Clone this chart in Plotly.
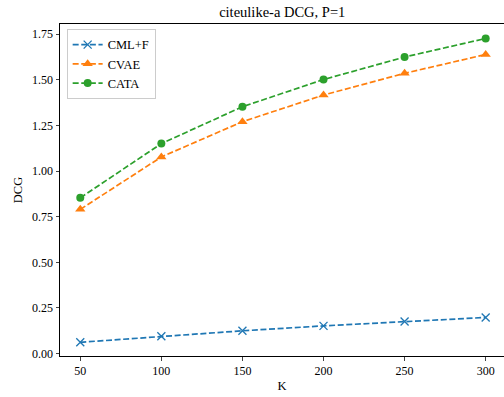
import plotly.graph_objects as go

K = [50, 100, 150, 200, 250, 300]
cml_f = [0.062, 0.095, 0.125, 0.152, 0.176, 0.198]
cvae = [0.79, 1.077, 1.27, 1.416, 1.535, 1.638]
cata = [0.853, 1.150, 1.352, 1.501, 1.624, 1.726]
x_ticks = [50, 100, 150, 200, 250, 300]
y_ticks = [0.0, 0.25, 0.5, 0.75, 1.0, 1.25, 1.5, 1.75]
y_tick_text = ["0.00", "0.25", "0.50", "0.75", "1.00", "1.25", "1.50", "1.75"]

FONT = "Liberation Serif"
DASH = "6px,2.6px"

fig = go.Figure()
fig.add_trace(go.Scatter(x=K, y=cml_f, name="CML+F", mode="lines+markers",
                         line=dict(color="#1f77b4", dash=DASH, width=1.7),
                         marker=dict(symbol="x-thin", size=8, line=dict(width=1.3, color="#1f77b4"))))
fig.add_trace(go.Scatter(x=K, y=cvae, name="CVAE", mode="lines+markers",
                         line=dict(color="#ff7f0e", dash=DASH, width=1.7),
                         marker=dict(symbol="triangle-up", size=9, color="#ff7f0e")))
fig.add_trace(go.Scatter(x=K, y=cata, name="CATA", mode="lines+markers",
                         line=dict(color="#2ca02c", dash=DASH, width=1.7),
                         marker=dict(symbol="circle", size=8, color="#2ca02c")))

fig.update_layout(
    width=504, height=397,
    margin=dict(l=60, r=0, t=24, b=41),
    paper_bgcolor="white", plot_bgcolor="white",
    font=dict(family=FONT, size=12, color="black"),
    title=dict(text="citeulike-a DCG, P=1", x=0.56, xanchor="center", y=0.97, yanchor="middle",
               font=dict(size=14.5)),
    showlegend=True,
    legend=dict(x=0.015, y=0.985, xanchor="left", yanchor="top",
                bordercolor="#cccccc", borderwidth=1, bgcolor="rgba(255,255,255,0.8)",
                font=dict(size=12.5), tracegroupgap=0, itemwidth=30),
    xaxis=dict(range=[37.5, 311.3], tickvals=x_ticks, ticks="outside", ticklen=3.5,
               showline=True, linecolor="black", linewidth=1, mirror=True,
               showgrid=False, zeroline=False,
               title=dict(text="K", standoff=4, font=dict(size=12.5))),
    yaxis=dict(range=[-0.013, 1.805], tickvals=y_ticks, ticktext=y_tick_text,
               ticks="outside", ticklen=3.5,
               showline=True, linecolor="black", linewidth=1, mirror=False,
               showgrid=False, zeroline=False,
               title=dict(text="DCG", standoff=6, font=dict(size=12.5))),
)

fig.write_html("out.html")
